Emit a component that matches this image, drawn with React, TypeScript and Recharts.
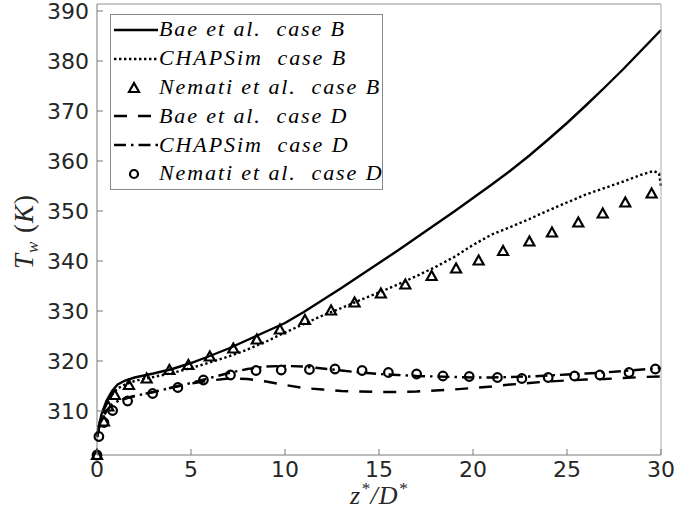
import { ComposedChart, Line, Scatter, XAxis, YAxis } from "recharts";

type Pt = [number, number];

// wall temperature T_w (K) along z*/D*
const baeB: Pt[] = [
  [0, 304.8], [0.1, 307], [0.25, 309.5], [0.5, 312], [0.8, 314], [1.1, 315.3],
  [1.5, 316.1], [2, 316.7], [3, 317.5], [4, 318.4], [5, 319.6], [6, 321],
  [7, 322.5], [8, 324.2], [9, 325.9], [10, 327.6], [11, 329.8], [12, 332.2],
  [13, 334.6], [14, 337.1], [15, 339.6], [16, 342.1], [17, 344.7], [18, 347.3],
  [19, 349.9], [20, 352.6], [21, 355.3], [22, 358.1], [23, 361.1], [24, 364.3],
  [25, 367.6], [26, 371.1], [27, 374.7], [28, 378.4], [29, 382.3], [30, 386.2],
];

const chapB: Pt[] = [
  [0, 304.8], [0.1, 306.8], [0.25, 309], [0.5, 311.5], [0.8, 313.3], [1.1, 314.5],
  [1.5, 315.3], [2, 316], [3, 316.8], [4, 317.6], [5, 318.6], [6, 319.7],
  [7, 320.9], [8, 322.3], [9, 323.9], [10, 325.7], [11, 327.4], [12, 329.1],
  [13, 330.6], [14, 332.2], [15, 333.7], [16, 335.3], [17, 337], [18, 338.8],
  [19, 340.8], [20, 343.2], [21, 345.3], [22, 346.8], [23, 348.4], [24, 350.1],
  [25, 351.7], [26, 353.3], [27, 354.6], [28, 355.9], [29, 357.3], [29.6, 358],
  [29.9, 357.5], [30, 355],
];

const nematiB: Pt[] = [
  [0, 301.2], [0.37, 307.9], [0.6, 310.9], [0.95, 313.2], [1.7, 315.2], [2.64, 316.5],
  [3.85, 318.2], [4.86, 319.2], [6.0, 320.9], [7.25, 322.5], [8.5, 324.3], [9.73, 326.3],
  [11.06, 328.2], [12.45, 330.1], [13.7, 331.7], [15.1, 333.5], [16.4, 335.3], [17.8, 337],
  [19.1, 338.5], [20.3, 340.1], [21.6, 342], [23.0, 343.9], [24.2, 345.7], [25.6, 347.7],
  [26.9, 349.5], [28.1, 351.7], [29.5, 353.5],
];

const baeD: Pt[] = [
  [0, 304.8], [0.1, 306.5], [0.25, 308.3], [0.5, 310], [0.8, 311.3], [1.2, 312.2],
  [2, 313], [3, 313.8], [4, 314.7], [5, 315.5], [6, 316.1], [7, 316.5],
  [8, 316.4], [9, 315.9], [10, 315.2], [11, 314.6], [12, 314.3], [13, 314],
  [14, 313.9], [15, 313.8], [16, 313.8], [17, 313.9], [18, 314.1], [19, 314.3],
  [20, 314.6], [21, 314.9], [22, 315.3], [23, 315.6], [24, 315.9], [25, 316.1],
  [26, 316.3], [27, 316.4], [28, 316.6], [29, 316.8], [30, 316.9],
];

const chapD: Pt[] = [
  [0, 304.8], [0.1, 306.5], [0.25, 308.3], [0.5, 310], [0.8, 311.3], [1.2, 312.2],
  [2, 313], [3, 313.8], [4, 314.7], [5, 315.6], [6, 316.6], [7, 317.6],
  [8, 318.4], [9, 318.9], [10, 319], [11, 318.9], [12, 318.5], [13, 318.1],
  [14, 317.7], [15, 317.4], [16, 317.2], [17, 317], [18, 316.9], [19, 316.8],
  [20, 316.7], [21, 316.7], [22, 316.8], [23, 316.9], [24, 317.1], [25, 317.3],
  [26, 317.5], [27, 317.7], [28, 318], [29, 318.3], [30, 318.6],
];

const nematiD: Pt[] = [
  [0, 301.2], [0.1, 304.9], [0.37, 307.7], [0.83, 310.1], [1.63, 312], [2.96, 313.5],
  [4.3, 314.7], [5.66, 316.2], [7.1, 317.2], [8.46, 318.1], [9.8, 318.2], [11.3, 318.3],
  [12.66, 318.4], [14.1, 318.1], [15.5, 317.7], [17.0, 317.4], [18.4, 317.0], [19.8, 316.9],
  [21.3, 316.7], [22.6, 316.5], [24, 316.7], [25.4, 317.0], [26.75, 317.2], [28.3, 317.7],
  [29.7, 318.4],
];

const xTicks = [0, 5, 10, 15, 20, 25, 30];
const yTicks = [310, 320, 330, 340, 350, 360, 370, 380, 390];

const legendItems = [
  { label: "Bae et al.  case B", kind: "solid" },
  { label: "CHAPSim  case B", kind: "dot" },
  { label: "Nemati et al.  case B", kind: "tri" },
  { label: "Bae et al.  case D", kind: "dash" },
  { label: "CHAPSim  case D", kind: "dashdot" },
  { label: "Nemati et al.  case D", kind: "circ" },
];

const INK = "#262626";
const AXIS = "#7a7a7a";
const LW = 2.4;
const DASH: Record<string, string | undefined> = {
  solid: undefined,
  dot: "2.4 2.6",
  dash: "13 11",
  dashdot: "12 5 2.5 5",
};

const toPts = (arr: Pt[]) => arr.map(([z, t]) => ({ z, t }));

const tri = (cx: number, cy: number) =>
  `${cx},${cy - 5} ${cx - 5},${cy + 4} ${cx + 5},${cy + 4}`;

const Triangle = ({ cx, cy }: any) => (
  <polygon points={tri(cx, cy)} fill="none" stroke="#000" strokeWidth={2.2} />
);
const Circle = ({ cx, cy }: any) => (
  <circle cx={cx} cy={cy} r={4.3} fill="none" stroke="#000" strokeWidth={2.2} />
);

const BottomTick = ({ x, y, payload }: any) => (
  <g>
    <line x1={x} x2={x} y1={y} y2={y - 6} stroke={AXIS} />
    <text x={x} y={y + 22} textAnchor="middle" fontSize={22} fill={INK} fontFamily="DejaVu Sans">
      {payload.value}
    </text>
  </g>
);
const TopTick = ({ x, y }: any) => <line x1={x} x2={x} y1={y} y2={y + 6} stroke={AXIS} />;
const LeftTick = ({ x, y, payload }: any) => (
  <g>
    <line x1={x} x2={x + 6} y1={y} y2={y} stroke={AXIS} />
    <text x={x - 8} y={y} dy="0.36em" textAnchor="end" fontSize={22} fill={INK} fontFamily="DejaVu Sans">
      {payload.value}
    </text>
  </g>
);
const RightTick = ({ x, y }: any) => <line x1={x} x2={x - 6} y1={y} y2={y} stroke={AXIS} />;

const XTitle = ({ viewBox }: any) => {
  const cx = viewBox.x + viewBox.width / 2;
  return (
    <text x={cx} y={504} textAnchor="middle" fontSize={26} fontStyle="italic" fill={INK} fontFamily="Liberation Serif" letterSpacing={1}>
      z<tspan dy={-10} fontSize={17}>*</tspan>
      <tspan dy={10}>/D</tspan>
      <tspan dy={-10} fontSize={17}>*</tspan>
    </text>
  );
};

const YTitle = ({ viewBox }: any) => {
  const cy = viewBox.y + viewBox.height / 2;
  return (
    <text
      transform={`translate(33, ${cy + 2}) rotate(-90)`}
      textAnchor="middle"
      fontSize={27}
      fontStyle="italic"
      fill={INK}
      fontFamily="Liberation Serif"
      letterSpacing={1}
    >
      T<tspan dy={5} fontSize={17}>w</tspan>
      <tspan dy={-5} fontStyle="normal">{" ("}</tspan>K<tspan fontStyle="normal">)</tspan>
    </text>
  );
};

function LegendSample({ kind }: { kind: string }) {
  if (kind === "tri") return <polygon points={tri(23, 15)} fill="none" stroke="#000" strokeWidth={2.2} />;
  if (kind === "circ") return <circle cx={23} cy={15} r={4} fill="none" stroke="#000" strokeWidth={2.2} />;
  return <line x1={3} x2={47} y1={15} y2={15} stroke="#000" strokeWidth={LW} strokeDasharray={DASH[kind]} />;
}

function ChartLegend() {
  return (
    <div
      style={{
        position: "absolute",
        left: 110,
        top: 14,
        width: 273,
        height: 176,
        border: "1px solid #8a8a8a",
        background: "#fff",
        boxSizing: "border-box",
      }}
    >
      {legendItems.map((it) => (
        <div key={it.label} style={{ display: "flex", alignItems: "center", height: 28.8 }}>
          <svg width={48} height={29} style={{ flex: "none" }}>
            <LegendSample kind={it.kind} />
          </svg>
          <span
            style={{
              fontFamily: "Liberation Serif",
              fontStyle: "italic",
              fontSize: 22,
              color: "#000",
              whiteSpace: "pre",
              letterSpacing: 1.9,
            }}
          >
            {it.label}
          </span>
        </div>
      ))}
    </div>
  );
}

export default function App() {
  return (
    <div style={{ position: "absolute", left: 0, top: 0, width: 675, height: 519, background: "#fff" }}>
      <ComposedChart width={675} height={519} margin={{ top: 0, right: 10, bottom: 24, left: 37 }}>
        <XAxis
          dataKey="z"
          type="number"
          domain={[0, 30]}
          ticks={xTicks}
          height={40}
          tickSize={0}
          tickMargin={0}
          tickLine={false}
          tick={<BottomTick />}
          axisLine={{ stroke: AXIS }}
          label={<XTitle />}
        />
        <XAxis
          xAxisId="top"
          orientation="top"
          dataKey="z"
          type="number"
          domain={[0, 30]}
          ticks={xTicks}
          height={4}
          tickSize={0}
          tickMargin={0}
          tickLine={false}
          tick={<TopTick />}
          axisLine={{ stroke: "#8f8f8f" }}
        />
        <YAxis
          type="number"
          domain={[301.2, 391.4]}
          ticks={yTicks}
          width={60}
          tickSize={0}
          tickMargin={0}
          tickLine={false}
          tick={<LeftTick />}
          axisLine={{ stroke: AXIS }}
          label={<YTitle />}
        />
        <YAxis
          yAxisId="right"
          orientation="right"
          type="number"
          domain={[301.2, 391.4]}
          ticks={yTicks}
          width={4}
          tickSize={0}
          tickMargin={0}
          tickLine={false}
          tick={<RightTick />}
          axisLine={{ stroke: "#ababab" }}
        />
        <Line data={toPts(baeB)} dataKey="t" stroke="#000" strokeWidth={LW} dot={false} isAnimationActive={false} />
        <Line data={toPts(chapB)} dataKey="t" stroke="#000" strokeWidth={LW} strokeDasharray={DASH.dot} dot={false} isAnimationActive={false} />
        <Line data={toPts(baeD)} dataKey="t" stroke="#000" strokeWidth={LW} strokeDasharray={DASH.dash} dot={false} isAnimationActive={false} />
        <Line data={toPts(chapD)} dataKey="t" stroke="#000" strokeWidth={LW} strokeDasharray={DASH.dashdot} dot={false} isAnimationActive={false} />
        <Scatter data={toPts(nematiB)} dataKey="t" shape={<Triangle />} isAnimationActive={false} />
        <Scatter data={toPts(nematiD)} dataKey="t" shape={<Circle />} isAnimationActive={false} />
      </ComposedChart>
      <ChartLegend />
    </div>
  );
}
